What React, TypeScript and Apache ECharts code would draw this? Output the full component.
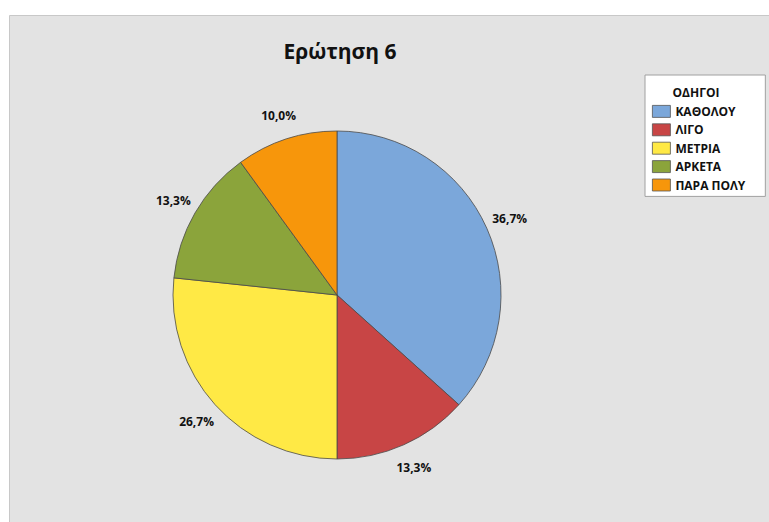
import React, { useEffect, useRef } from "react";
import * as echarts from "echarts";

const titleText = "Ερώτηση 6";
const legendTitle = "ΟΔΗΓΟΙ";
const categories = ["ΚΑΘΟΛΟΥ", "ΛΙΓΟ", "ΜΕΤΡΙΑ", "ΑΡΚΕΤΑ", "ΠΑΡΑ ΠΟΛΥ"];
const counts = [11, 4, 8, 4, 3];
const colors = ["#7BA7DA", "#C84545", "#FFE945", "#8BA43B", "#F7960B"];

const FONT = "'Open Sans', 'Noto Sans', sans-serif";

export default function App() {
  const ref = useRef<HTMLDivElement>(null);
  useEffect(() => {
    if (!ref.current) return;
    const chart = echarts.init(ref.current, null, { renderer: "svg" });
    const data = categories.map((name, i) => ({ name, value: counts[i] }));
    const fmt = (p: any) => p.percent.toFixed(1).replace(".", ",") + "%";
    chart.setOption({
      animation: false,
      backgroundColor: "#ffffff",
      color: colors,
      title: {
        text: titleText,
        left: 335,
        textAlign: "center",
        top: 35,
        textStyle: { fontFamily: FONT, fontWeight: "bold", fontSize: 21, color: "#111" },
      },
      graphic: [
        {
          type: "rect",
          z: -10,
          shape: { x: 9.5, y: 15.5, width: 770, height: 520 },
          style: { fill: "#E3E3E3", stroke: "#C8C8C8", lineWidth: 1 },
        },
        {
          type: "text",
          z: 100,
          x: 696,
          y: 92,
          style: {
            text: legendTitle,
            fontFamily: FONT,
            fontWeight: "bold",
            fontSize: 12,
            fill: "#111",
            align: "center",
            verticalAlign: "middle",
          },
        },
      ],
      legend: {
        orient: "vertical",
        left: 645,
        top: 75,
        data: categories,
        itemWidth: 18,
        itemHeight: 12,
        itemGap: 5.6,
        itemTextGap: 5,
        padding: [30, 20, 5, 7],
        backgroundColor: "#ffffff",
        borderColor: "#A0A0A0",
        borderWidth: 1,
        icon: "rect",
        itemStyle: { borderColor: "#555", borderWidth: 0.8 },
        textStyle: { fontFamily: FONT, fontWeight: "bold", fontSize: 12, color: "#111" },
        selectedMode: false,
      },
      series: [
        {
          type: "pie",
          center: [337, 295],
          radius: 164,
          startAngle: 90,
          clockwise: true,
          data,
          label: { show: false },
          labelLine: { show: false },
          itemStyle: { borderColor: "#4A4A4A", borderWidth: 0.8 },
          emphasis: { disabled: true },
        },
        {
          type: "pie",
          center: [337, 295],
          radius: [164, 208],
          startAngle: 90,
          clockwise: true,
          silent: true,
          data: data.map((d) => ({ ...d, itemStyle: { color: "rgba(0,0,0,0)" } })),
          itemStyle: { borderWidth: 0 },
          label: {
            show: true,
            position: "inside",
            formatter: fmt,
            fontFamily: FONT,
            fontWeight: "bold",
            fontSize: 12,
            color: "#111",
          },
          labelLine: { show: false },
          emphasis: { disabled: true },
        },
      ],
    });
    return () => chart.dispose();
  }, []);
  return (
    <div
      ref={ref}
      style={{ position: "fixed", left: 0, top: 0, width: 769, height: 522 }}
    />
  );
}
